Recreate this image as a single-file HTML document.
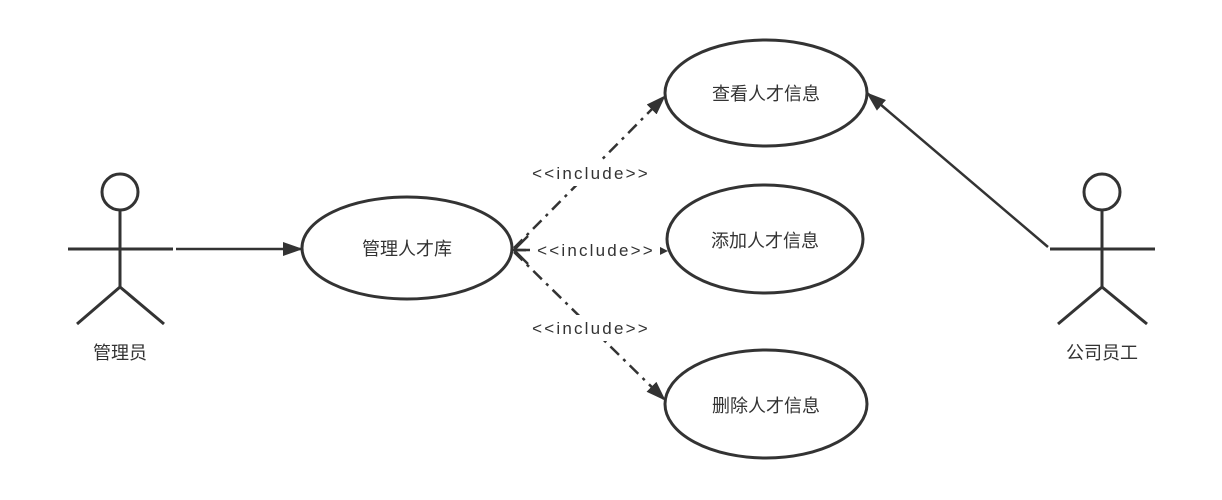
<!DOCTYPE html>
<html><head><meta charset="utf-8"><style>
html,body{margin:0;padding:0;background:#fff;}
svg text{font-family:"Liberation Sans","Noto Sans CJK SC",sans-serif;fill:#333;}
</style></head><body>
<svg width="1222" height="495" viewBox="0 0 1222 495" xmlns="http://www.w3.org/2000/svg">
<defs>
<marker id="f" markerWidth="10" markerHeight="10" refX="9" refY="5" orient="auto" markerUnits="userSpaceOnUse" viewBox="0 0 10 10">
<path d="M0,0 L10,5 L0,10 Z" fill="#333"/>
</marker>
<marker id="fb" markerWidth="20" markerHeight="14" refX="19" refY="7" orient="auto" markerUnits="userSpaceOnUse" viewBox="0 0 20 14">
<path d="M0,0 L20,7 L0,14 Z" fill="#333"/>
</marker>
</defs>
<g stroke="#333" stroke-width="3" fill="none">
<circle cx="120" cy="192" r="18"/>
<line x1="120" y1="210" x2="120" y2="287"/>
<line x1="68" y1="249" x2="173" y2="249"/>
<line x1="120" y1="287" x2="77" y2="324"/>
<line x1="120" y1="287" x2="164" y2="324"/>
<circle cx="1102" cy="192" r="18"/>
<line x1="1102" y1="210" x2="1102" y2="287"/>
<line x1="1050" y1="249" x2="1155" y2="249"/>
<line x1="1102" y1="287" x2="1058" y2="324"/>
<line x1="1102" y1="287" x2="1147" y2="324"/>
<ellipse cx="407" cy="248" rx="105" ry="51"/>
<ellipse cx="766" cy="93" rx="101" ry="53"/>
<ellipse cx="765" cy="239" rx="98" ry="54"/>
<ellipse cx="766" cy="404" rx="101" ry="54"/>
</g>
<g stroke="#333" stroke-width="2.5" fill="none">
<line x1="176" y1="249" x2="302" y2="249" marker-end="url(#fb)"/>
<line x1="1048" y1="247" x2="867" y2="93" marker-end="url(#fb)"/>
<g stroke-dasharray="12,6,3,6">
<line x1="514" y1="248" x2="665" y2="96" marker-end="url(#fb)"/>
<line x1="514" y1="250" x2="667" y2="251" marker-end="url(#f)"/>
<line x1="514" y1="252" x2="665" y2="400" marker-end="url(#fb)"/>
</g>
<path d="M528,236 L514,250 L528,264 M514,250 L530,250"/>
</g>
<rect x="526" y="160" width="130" height="26" fill="#fff"/>
<rect x="530" y="237" width="130" height="26" fill="#fff"/>
<rect x="526" y="315" width="130" height="26" fill="#fff"/>
<g font-size="18" text-anchor="middle">
<text x="591" y="179" font-size="17" letter-spacing="2.2">&lt;&lt;include&gt;&gt;</text>
<text x="596" y="256" font-size="17" letter-spacing="2.2">&lt;&lt;include&gt;&gt;</text>
<text x="591" y="334" font-size="17" letter-spacing="2.2">&lt;&lt;include&gt;&gt;</text>
<text x="407" y="255">管理人才库</text>
<text x="766" y="100">查看人才信息</text>
<text x="765" y="247">添加人才信息</text>
<text x="766" y="412">删除人才信息</text>
<text x="120" y="359">管理员</text>
<text x="1102" y="359">公司员工</text>
</g>
</svg>
</body></html>
